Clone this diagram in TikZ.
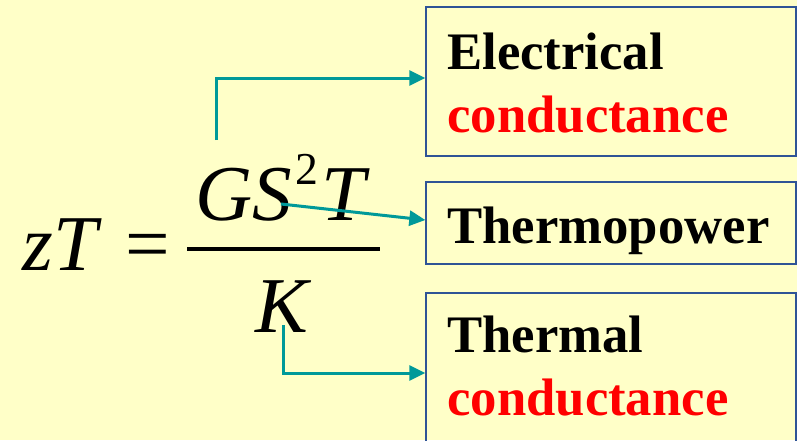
\documentclass[tikz,border=0pt]{standalone}
\usepackage{fontspec}
\setmainfont{Liberation Serif}
\usetikzlibrary{arrows.meta}
\definecolor{bgyellow}{RGB}{255,255,200}
\definecolor{linkteal}{RGB}{0,153,153}
\definecolor{boxblue}{RGB}{47,84,150}
\newcommand{\bigeq}{\fontsize{45}{54}\selectfont}
\newcommand{\boxfont}{\fontsize{30}{36}\selectfont\bfseries}

\begin{document}
\begin{tikzpicture}[x=0.02cm,y=-0.02cm,
  eqtext/.style={inner sep=0pt,anchor=base west,font=\bigeq},
  boxtext/.style={inner sep=0pt,anchor=base west,font=\boxfont},
  quantbox/.style={draw=boxblue,line width=0.8pt,minimum width=7.4cm,inner sep=0pt},
  link/.style={draw=linkteal,line width=0.06cm,-{Triangle[length=0.32cm,width=0.3cm]}}]

\clip (0,0) rectangle (797,440);
\fill[bgyellow] (0,0) rectangle (797,440);

% left hand side
\node[eqtext] (zt) at (22,270) {\itshape zT};
\node[eqtext] (eq) at (125,270) {=};

% the fraction
\node[eqtext] (num) at (195,220) {\itshape GS\kern2pt\raisebox{0.72cm}{\upshape\fontsize{26}{26}\selectfont 2}\kern2pt T};
\node[eqtext] (den) at (255,332) {\itshape K};
\draw[line width=0.09cm] (187,249) -- (380,249);

% boxes
\node[quantbox,minimum height=2.98cm] (boxelec) at (611,81.5) {};
\node[quantbox,minimum height=1.64cm] (boxpow) at (611,223) {};
\node[quantbox,minimum height=3.2cm] (boxkap) at (611,373) {};

\node[boxtext] (elec) at (447,69) {Electrical};
\node[boxtext,text=red] (cond1) at (447,132) {conductance};
\node[boxtext] (thpow) at (447,243) {Thermopower};
\node[boxtext] (therm) at (447,352) {Thermal};
\node[boxtext,text=red] (cond2) at (447,415) {conductance};

% connectors
\coordinate (gtop) at (216,140);
\coordinate (smid) at (281,204);
\coordinate (kfoot) at (283,325);
\draw[link] (gtop) |- ([yshift=0.07cm]boxelec.west);
\draw[link] (smid) -- ([yshift=0.06cm]boxpow.west);
\draw[link] (kfoot) |- (boxkap.west);

\end{tikzpicture}
\end{document}
